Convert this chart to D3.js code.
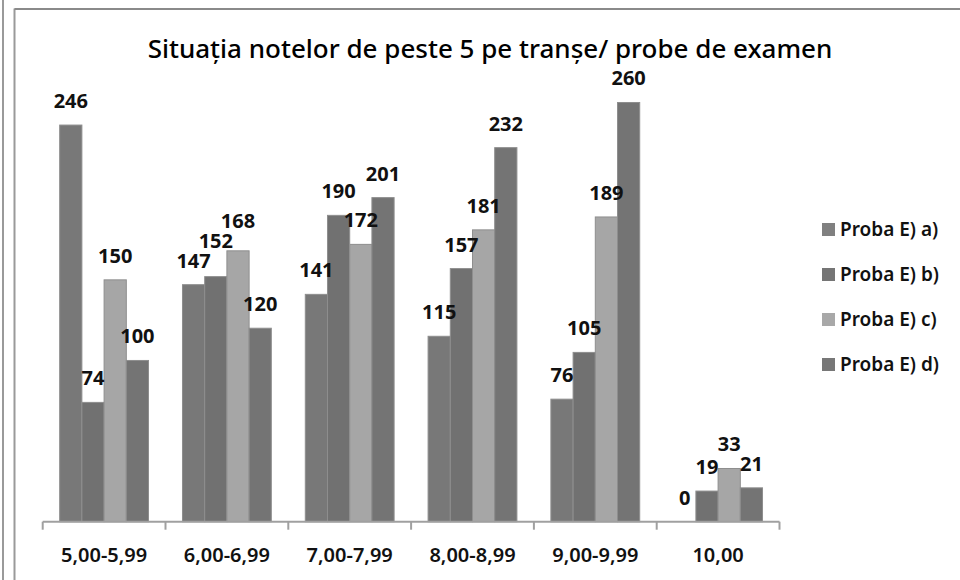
<!DOCTYPE html>
<html>
<head>
<meta charset="utf-8">
<script src="https://cdn.jsdelivr.net/npm/d3@7"></script>
<style>
  body { margin: 0; background: #fff; }
  text { font-family: "Noto Sans", sans-serif; fill: #111; }
</style>
</head>
<body>
<div id="chart"></div>
<script>
// data
const titleText = "Situația notelor de peste 5 pe tranșe/ probe de examen";
const categories = ["5,00-5,99", "6,00-6,99", "7,00-7,99", "8,00-8,99", "9,00-9,99", "10,00"];
const seriesNames = ["Proba E) a)", "Proba E) b)", "Proba E) c)", "Proba E) d)"];
const probaA = [246, 147, 141, 115, 76, 0];
const probaB = [74, 152, 190, 157, 105, 19];
const probaC = [150, 168, 172, 181, 189, 33];
const probaD = [100, 120, 201, 232, 260, 21];
const fills = ["#787878", "#717171", "#a6a6a6", "#747474"];
const legendFills = ["#808080", "#757575", "#a8a8a8", "#777777"];

const width = 960,
  height = 580;
const values = [probaA, probaB, probaC, probaD];

const svg = d3
  .select("#chart")
  .append("svg")
  .attr("width", width)
  .attr("height", height)
  .attr("viewBox", [0, 0, width, height]);

// frame lines
svg.append("line").attr("x1", 3).attr("x2", 3).attr("y1", 0).attr("y2", height)
  .attr("stroke", "#9a9a9a").attr("stroke-width", 2);
svg.append("line").attr("x1", 14.5).attr("x2", 14.5).attr("y1", 8.5).attr("y2", height)
  .attr("stroke", "#9a9a9a").attr("stroke-width", 2);
svg.append("line").attr("x1", 14.5).attr("x2", width).attr("y1", 9).attr("y2", 9)
  .attr("stroke", "#8a8a8a").attr("stroke-width", 2);

// scales
const x = d3.scaleBand(categories, [42.7, 779.5]);
const xi = d3.scaleBand(d3.range(seriesNames.length), [0, x.bandwidth()])
  .paddingInner(0)
  .paddingOuter(0.765);
const y = d3.scaleLinear([0, 300], [521.7, 38]);

// title
svg.append("text")
  .attr("x", 490)
  .attr("y", 58)
  .attr("text-anchor", "middle")
  .style("font-size", "26px")
  .style("font-weight", 500)
  .style("fill", "#000")
  .text(titleText);

// bars
const cells = categories.flatMap((c, ci) =>
  values.map((s, si) => ({ c, ci, si, v: s[ci] }))
);

svg.append("g")
  .selectAll("rect")
  .data(cells.filter((d) => d.v > 0))
  .join("rect")
  .attr("x", (d) => x(d.c) + xi(d.si))
  .attr("width", xi.bandwidth())
  .attr("y", (d) => y(d.v))
  .attr("height", (d) => y(0) - y(d.v))
  .attr("fill", (d) => fills[d.si])
  .attr("stroke", "#8e8e8e")
  .attr("stroke-width", 1);

// x axis: line, ticks at group edges, labels
const axis = svg.append("g").attr("transform", `translate(0,${y(0)})`);
axis.append("line")
  .attr("x1", x.range()[0]).attr("x2", x.range()[1])
  .attr("stroke", "#a0a0a0").attr("stroke-width", 2);
const edges = categories.map((c) => x(c)).concat(x.range()[1]);
axis.selectAll(".tk")
  .data(edges)
  .join("line")
  .attr("class", "tk")
  .attr("x1", (d) => d).attr("x2", (d) => d)
  .attr("y1", 0).attr("y2", 8)
  .attr("stroke", "#a0a0a0").attr("stroke-width", 2);
axis.selectAll(".lbl")
  .data(categories)
  .join("text")
  .attr("class", "lbl")
  .attr("x", (d) => x(d) + x.bandwidth() / 2)
  .attr("y", 40)
  .attr("text-anchor", "middle")
  .style("font-size", "20px")
  .style("font-weight", 600)
  .text((d) => d);

// value labels, nudged up when they would hit the previous one
const labelG = svg.append("g");
categories.forEach((c, ci) => {
  let prev = null;
  values.forEach((s, si) => {
    const cx = x(c) + xi(si) + xi.bandwidth() / 2;
    let base = y(s[ci]) - 17;
    const t = labelG.append("text")
      .attr("x", cx)
      .attr("y", base)
      .attr("text-anchor", "middle")
      .style("font-size", "20px")
      .style("font-weight", 700)
      .text(s[ci]);
    const w = t.node().getComputedTextLength();
    if (prev && Math.abs(prev.x - cx) < (prev.w + w) / 2 - 2 && Math.abs(prev.base - base) < 20) {
      base = prev.base - 20;
      t.attr("y", base);
    }
    prev = { x: cx, base, w };
  });
});

// legend
const legend = svg.append("g")
  .selectAll("g")
  .data(seriesNames)
  .join("g")
  .attr("transform", (d, i) => `translate(822,${223 + i * 45})`);
legend.append("rect")
  .attr("width", 13).attr("height", 13)
  .attr("fill", (d, i) => legendFills[i]);
legend.append("text")
  .attr("x", 18)
  .attr("y", 13)
  .style("font-size", "19px")
  .style("font-weight", 600)
  .text((d) => d);
</script>
</body>
</html>
